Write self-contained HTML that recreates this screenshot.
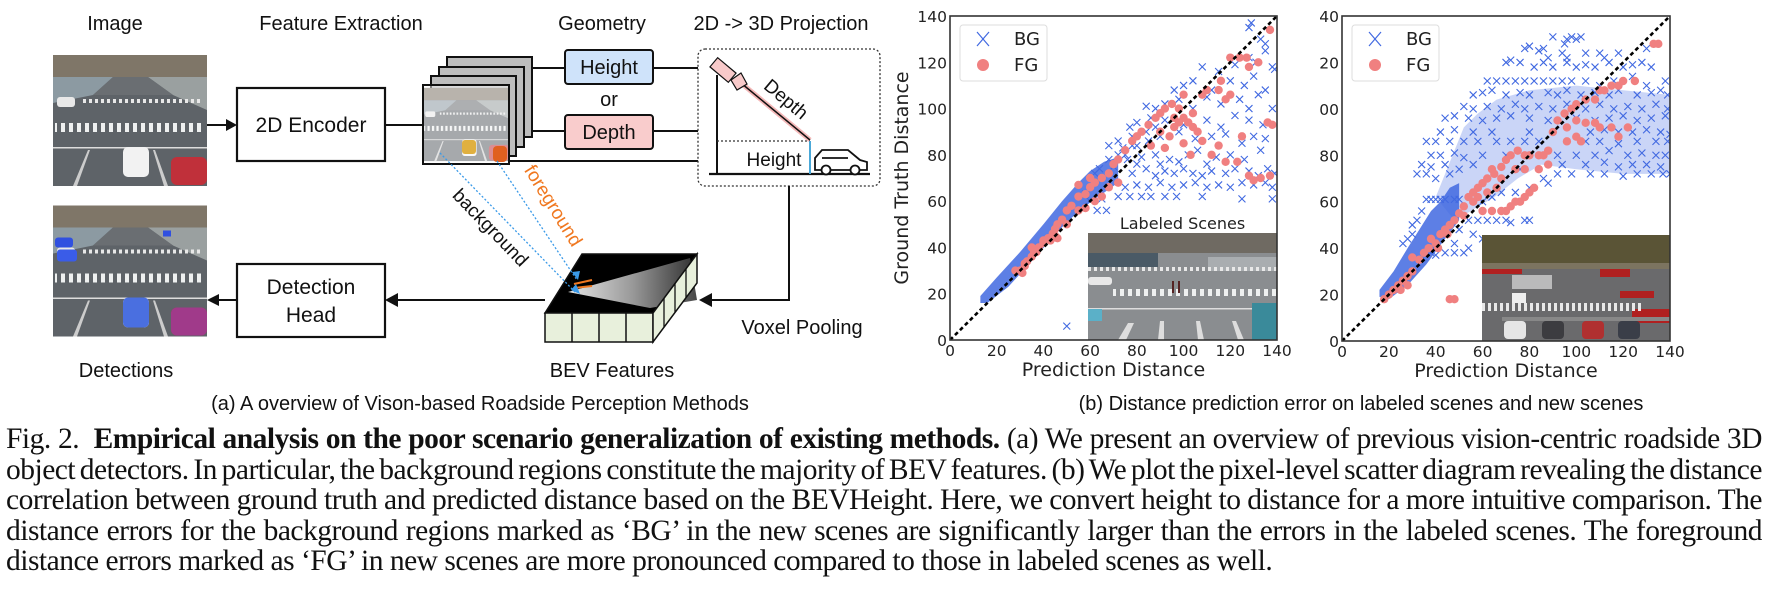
<!DOCTYPE html>
<html><head><meta charset="utf-8">
<style>
html,body{margin:0;padding:0;background:#fff;}
#wrap{position:relative;width:1767px;height:597px;overflow:hidden;background:#fff;}
svg{position:absolute;left:0;top:0;}
.cap{position:absolute;left:6px;width:1756px;font-family:"Liberation Serif",serif;font-size:29.5px;letter-spacing:-0.5px;line-height:30.5px;color:#111;text-align:justify;white-space:nowrap;}
.cap.j{text-align-last:justify;white-space:normal;word-spacing:-6px;height:31px;overflow:hidden;}
.dg{font-family:"Liberation Sans",sans-serif;fill:#111;}
.pl{font-family:"DejaVu Sans",sans-serif;fill:#222;}
</style></head>
<body>
<div id="wrap">
<svg id="fig" width="1767" height="597" viewBox="0 0 1767 597">
<defs>
 <pattern id="zebra" width="8" height="10" patternUnits="userSpaceOnUse"><rect width="4" height="10" fill="#eef0f0"/></pattern>
 <pattern id="zebra2" width="6" height="8" patternUnits="userSpaceOnUse"><rect width="3" height="8" fill="#e8e8e8"/></pattern>
 <linearGradient id="wedge" x1="0" y1="0" x2="1" y2="0"><stop offset="0" stop-color="#fff"/><stop offset="0.5" stop-color="#aaa"/><stop offset="1" stop-color="#333"/></linearGradient>
 <symbol id="road" viewBox="0 0 154 131">
  <rect width="154" height="131" fill="#5e6368"/>
  <rect width="154" height="22" fill="#7f7668"/>
  <polygon points="0,22 60,22 40,40 0,48" fill="#8c9aa2"/>
  <polygon points="95,22 154,22 154,55 120,40" fill="#9aa0a0"/>
  <polygon points="60,22 95,22 120,40 40,40" fill="#6a6e72"/>
  <rect x="30" y="44" width="120" height="4" fill="url(#zebra2)"/>
  <rect x="2" y="68" width="150" height="9" fill="url(#zebra)"/>
  <rect x="0" y="92" width="154" height="1.5" fill="#ddd"/>
  <polygon points="20,131 35,95 37,95 24,131" fill="#ccc"/>
  <polygon points="100,95 102,95 115,131 111,131" fill="#ccc"/>
  <rect x="70" y="92" width="26" height="30" rx="5" fill="#f2f2f2"/>
  <rect x="118" y="102" width="36" height="28" rx="6" fill="#c0303a"/>
  <rect x="4" y="42" width="18" height="10" rx="3" fill="#e8e8e8"/>
 </symbol>
 <symbol id="roaddet" viewBox="0 0 154 131">
  <use href="#road" width="154" height="131"/>
  <rect x="70" y="92" width="26" height="30" rx="5" fill="#4a6fe0"/>
  <rect x="118" y="102" width="36" height="28" rx="6" fill="#a03a8a"/>
  <rect x="2" y="32" width="18" height="10" rx="3" fill="#3050e0"/>
  <rect x="4" y="44" width="20" height="12" rx="3" fill="#3a5ce8"/>
  <rect x="110" y="25" width="8" height="6" fill="#3050e0"/>
 </symbol>
 <symbol id="road2" viewBox="0 0 188 106">
  <rect width="188" height="106" fill="#6a6a6c"/>
  <rect width="188" height="28" fill="#5a5436"/>
  <rect x="0" y="28" width="188" height="6" fill="#7c7460"/>
  <rect x="0" y="34" width="40" height="5" fill="#b02020"/>
  <rect x="118" y="34" width="30" height="8" fill="#b02020"/>
  <rect x="138" y="56" width="34" height="7" fill="#b02020"/>
  <rect x="150" y="74" width="38" height="14" fill="#b02020"/>
  <rect x="0" y="68" width="160" height="8" fill="url(#zebra2)"/>
  <rect x="20" y="82" width="168" height="4" fill="#888"/>
  <rect x="22" y="86" width="22" height="18" rx="4" fill="#e6e6e6"/>
  <rect x="60" y="86" width="22" height="18" rx="4" fill="#3c3c40"/>
  <rect x="100" y="86" width="22" height="18" rx="4" fill="#b03030"/>
  <rect x="136" y="86" width="22" height="18" rx="4" fill="#3a3e48"/>
  <rect x="30" y="40" width="40" height="14" fill="#ddd" opacity="0.7"/>
  <rect x="30" y="58" width="14" height="10" fill="#eee"/>
 </symbol>
 <symbol id="road1" viewBox="0 0 189 107">
  <rect width="189" height="107" fill="#8a8d90"/>
  <rect width="189" height="20" fill="#6f6a62"/>
  <rect x="0" y="20" width="70" height="14" fill="#4a5a66"/>
  <rect x="120" y="24" width="69" height="14" fill="#a9adb0"/>
  <rect x="0" y="34" width="189" height="4" fill="url(#zebra2)"/>
  <rect x="25" y="56" width="164" height="7" fill="url(#zebra)"/>
  <rect x="0" y="75" width="189" height="1.5" fill="#ddd"/>
  <rect x="0" y="44" width="24" height="8" rx="3" fill="#e8e8e8"/>
  <rect x="164" y="70" width="25" height="37" fill="#3a8a9a"/>
  <rect x="0" y="76" width="14" height="12" fill="#5bb0c8"/>
  <polygon points="30,107 40,90 46,90 38,107" fill="#ddd"/>
  <polygon points="70,107 72,88 76,88 76,107" fill="#ddd"/>
  <polygon points="110,107 108,88 112,88 116,107" fill="#ddd"/>
  <polygon points="150,107 144,88 148,88 156,107" fill="#ddd"/>
  <rect x="84" y="48" width="2" height="12" fill="#522"/><rect x="90" y="48" width="2" height="12" fill="#522"/>
 </symbol>
 <clipPath id="clip1"><rect x="950" y="16" width="327" height="324"/></clipPath>
 <clipPath id="clip2"><rect x="1342" y="16" width="328" height="325"/></clipPath>
</defs>

<g>
 <text class="dg" x="115" y="30" font-size="20" text-anchor="middle">Image</text>
 <text class="dg" x="341" y="30" font-size="20" text-anchor="middle">Feature Extraction</text>
 <text class="dg" x="602" y="30" font-size="20" text-anchor="middle">Geometry</text>
 <text class="dg" x="781" y="30" font-size="20" text-anchor="middle">2D -&gt; 3D Projection</text>

 <use href="#road" x="53" y="55" width="154" height="131"/>
 <use href="#roaddet" x="53" y="205" width="154" height="132"/>
 <text class="dg" x="126" y="377" font-size="20" text-anchor="middle">Detections</text>

 <line x1="207" y1="125" x2="228" y2="125" stroke="#111" stroke-width="2"/>
 <polygon points="237,125 226,119 226,131" fill="#111"/>
 <rect x="237" y="88" width="148" height="73" fill="#fff" stroke="#111" stroke-width="2.2"/>
 <text class="dg" x="311" y="132" font-size="21" text-anchor="middle">2D Encoder</text>

 <rect x="237" y="264" width="148" height="73" fill="#fff" stroke="#111" stroke-width="2.2"/>
 <text class="dg" x="311" y="294" font-size="21" text-anchor="middle">Detection</text>
 <text class="dg" x="311" y="322" font-size="21" text-anchor="middle">Head</text>
 <line x1="237" y1="300" x2="218" y2="300" stroke="#111" stroke-width="2"/>
 <polygon points="207,300 219,294 219,306" fill="#111"/>

 <line x1="385" y1="125" x2="423" y2="125" stroke="#111" stroke-width="2"/>
 <rect x="447" y="57" width="85" height="80" fill="#bdbdbd" stroke="#111" stroke-width="2"/>
 <rect x="439" y="67" width="85" height="80" fill="#bdbdbd" stroke="#111" stroke-width="2"/>
 <rect x="431" y="76" width="85" height="80" fill="#bdbdbd" stroke="#111" stroke-width="2"/>
 <g>
  <use href="#road" x="423" y="85" width="86" height="79"/>
  <rect x="423" y="85" width="86" height="79" fill="#fff" opacity="0.45"/>
  <rect x="462" y="140" width="14" height="14" rx="3" fill="#e0b040"/>
  <rect x="493" y="146" width="14" height="16" rx="4" fill="#e06020"/>
  <rect x="423" y="85" width="86" height="79" fill="none" stroke="#111" stroke-width="2"/>
 </g>
 <line x1="532" y1="68" x2="565" y2="68" stroke="#111" stroke-width="2"/>
 <line x1="532" y1="131" x2="565" y2="131" stroke="#111" stroke-width="2"/>
 <line x1="509" y1="161" x2="698" y2="161" stroke="#111" stroke-width="2"/>
 <rect x="565" y="50" width="88" height="34" rx="3" fill="#cfe3fa" stroke="#111" stroke-width="2"/>
 <text class="dg" x="609" y="74" font-size="20" text-anchor="middle">Height</text>
 <text class="dg" x="609" y="106" font-size="20" text-anchor="middle">or</text>
 <rect x="565" y="115" width="88" height="34" rx="3" fill="#f9cccc" stroke="#111" stroke-width="2"/>
 <text class="dg" x="609" y="139" font-size="20" text-anchor="middle">Depth</text>
 <line x1="653" y1="68" x2="698" y2="68" stroke="#111" stroke-width="2"/>
 <line x1="653" y1="131" x2="698" y2="131" stroke="#111" stroke-width="2"/>

 <g>
  <rect x="698" y="49" width="182" height="137" rx="7" fill="#fff" stroke="#333" stroke-width="1.3" stroke-dasharray="2,2"/>
  <line x1="717" y1="75" x2="717" y2="174" stroke="#111" stroke-width="2"/>
  <line x1="709" y1="174" x2="870" y2="174" stroke="#111" stroke-width="2.2"/>
  <line x1="717" y1="141" x2="810" y2="141" stroke="#333" stroke-width="1.2" stroke-dasharray="2,2"/>
  <line x1="741" y1="83" x2="810" y2="140" stroke="#f4b8b8" stroke-width="5"/>
  <line x1="741" y1="83" x2="810" y2="140" stroke="#111" stroke-width="1.5"/>
  <rect x="711" y="64" width="24" height="12" fill="#f8caca" stroke="#111" stroke-width="1.2" transform="rotate(40 723 70)"/>
  <polygon points="731,80 741,73 747,84 737,90" fill="#f8caca" stroke="#111" stroke-width="1.2"/>
  <line x1="810" y1="141" x2="810" y2="174" stroke="#4aa8d8" stroke-width="2"/>
  <path d="M815,170 L815,158 L822,150 L848,150 L860,160 L867,162 L867,170 Z" fill="#fff" stroke="#111" stroke-width="1.8"/>
  <line x1="822" y1="158" x2="848" y2="158" stroke="#111" stroke-width="1.8"/>
  <circle cx="826" cy="170" r="4.5" fill="#fff" stroke="#111" stroke-width="1.8"/>
  <circle cx="855" cy="170" r="4.5" fill="#fff" stroke="#111" stroke-width="1.8"/>
  <text class="dg" x="774" y="166" font-size="19" text-anchor="middle">Height</text>
  <text class="dg" x="782" y="104" font-size="19" text-anchor="middle" transform="rotate(40 782 104)">Depth</text>
 </g>
 <polyline points="789,186 789,300 710,300" fill="none" stroke="#111" stroke-width="2"/>
 <polygon points="699,300 712,293 712,307" fill="#111"/>
 <text class="dg" x="802" y="334" font-size="20" text-anchor="middle">Voxel Pooling</text>
 <line x1="545" y1="300" x2="396" y2="300" stroke="#111" stroke-width="2"/>
 <polygon points="385,300 398,293 398,307" fill="#111"/>

 <g>
  <polygon points="545,313 582,254 697,254 653,313" fill="#000" stroke="#111" stroke-width="1.5"/>
  <polygon points="568,292 690,258 697,300 650,308" fill="url(#wedge)" opacity="0.9"/>
  <rect x="545" y="313" width="108" height="29" fill="#e8f0dc" stroke="#111" stroke-width="1.5"/>
  <line x1="572" y1="313" x2="572" y2="342" stroke="#111" stroke-width="1.5"/>
  <line x1="599" y1="313" x2="599" y2="342" stroke="#111" stroke-width="1.5"/>
  <line x1="626" y1="313" x2="626" y2="342" stroke="#111" stroke-width="1.5"/>
  <polygon points="653,313 697,254 697,283 653,342" fill="#e8f0dc" stroke="#111" stroke-width="1.5"/>
  <line x1="664" y1="298" x2="664" y2="327" stroke="#111" stroke-width="1.3"/>
  <line x1="675" y1="283" x2="675" y2="312" stroke="#111" stroke-width="1.3"/>
  <line x1="686" y1="269" x2="686" y2="298" stroke="#111" stroke-width="1.3"/>
  <line x1="574" y1="284" x2="592" y2="280" stroke="#f07820" stroke-width="2"/>
  <line x1="574" y1="288" x2="592" y2="286" stroke="#f07820" stroke-width="2"/>
 </g>
 <text class="dg" x="612" y="377" font-size="20" text-anchor="middle">BEV Features</text>
 <line x1="440" y1="153" x2="575" y2="292" stroke="#3a9ae8" stroke-width="1.3" stroke-dasharray="2,2"/>
 <line x1="497" y1="161" x2="577" y2="280" stroke="#3a9ae8" stroke-width="1.3" stroke-dasharray="2,2"/>
 <polygon points="578,280 572,272 580,271" fill="#3a9ae8"/>
 <polygon points="580,294 571,290 576,284" fill="#3a9ae8"/>
 <text class="dg" x="486" y="232" font-size="19" text-anchor="middle" transform="rotate(46 486 232)">background</text>
 <text class="dg" x="548" y="209" font-size="19" text-anchor="middle" style="fill:#f07820" transform="rotate(58 548 209)">foreground</text>
 <text class="dg" x="480" y="410" font-size="20" text-anchor="middle">(a) A overview of Vison-based Roadside Perception Methods</text>
</g>

<g id="chart1"></g>
<g id="chart2"></g>
<text class="dg" x="1361" y="410" font-size="20" text-anchor="middle">(b) Distance prediction error on labeled scenes and new scenes</text>
</svg>

<div class="cap j" style="top:424px">Fig. 2.&nbsp; <b>Empirical analysis on the poor scenario generalization of existing methods.</b> (a) We present an overview of previous vision-centric roadside 3D</div>
<div class="cap j" style="top:454.5px">object detectors. In particular, the background regions constitute the majority of BEV features. (b) We plot the pixel-level scatter diagram revealing the distance</div>
<div class="cap j" style="top:485px">correlation between ground truth and predicted distance based on the BEVHeight. Here, we convert height to distance for a more intuitive comparison. The</div>
<div class="cap j" style="top:515.5px">distance errors for the background regions marked as ‘BG’ in the new scenes are significantly larger than the errors in the labeled scenes. The foreground</div>
<div class="cap" style="top:546px">distance errors marked as ‘FG’ in new scenes are more pronounced compared to those in labeled scenes as well.</div>
</div>

<script>
const xTicks = [0,20,40,60,80,100,120,140];
const yTicks = [0,20,40,60,80,100,120,140];
const yTickLabels1 = ["0","20","40","60","80","100","120","140"];
const yTickLabels2 = ["0","20","40","60","80","00","20","40"];

const band1 = [[13,19],[20,27],[30,38],[40,50],[48,60],[55,68],[60,73],[66,77],[72,79],[72,68],[65,63],[58,58],[50,51],[42,42],[34,33],[25,23],[16,16],[13,16]];
const band2 = [[16,22],[22,30],[28,40],[33,48],[38,56],[42,60],[46,66],[50,68],[50,52],[44,44],[36,33],[28,24],[20,18],[16,19]];
const cloud2 = [[40,62],[44,72],[48,82],[52,92],[58,98],[66,104],[80,108],[100,110],[120,108],[140,106],[140,72],[120,72],[100,74],[85,76],[75,70],[65,62],[55,56],[48,52]];

const bg1 = [[75,66],[80,67],[85,66],[90,68],[95,66],[100,67],[105,68],[110,66],[115,67],[120,66],[125,68],[130,67],[135,68],[138,66],
[72,62],[77,62],[82,62],[86,62],[92,62],[97,62],[108,62],[125,61],[138,61],[63,56],[67,56],
[78,72],[84,74],[88,71],[92,73],[96,72],[100,74],[104,72],[108,71],[112,73],[118,72],[122,74],[128,73],[132,71],[136,74],[139,72],
[72,80],[76,78],[82,79],[88,80],[94,78],[102,80],[106,82],[114,79],[120,80],[126,78],[133,82],[80,76],[90,76],[98,77],[110,76],
[72,86],[78,88],[85,86],[90,88],[98,90],[105,87],[112,88],[118,89],[125,85],[130,88],[135,87],[68,84],[74,83],
[80,94],[86,96],[92,95],[100,93],[110,95],[116,92],[122,97],[128,95],[134,93],[77,92],
[88,100],[92,102],[98,104],[104,100],[110,105],[116,102],[124,104],[128,100],[132,106],[138,100],[84,101],
[100,110],[104,112],[112,108],[120,112],[126,110],[130,114],[135,108],[96,108],
[108,118],[115,116],[122,119],[128,122],[131,120],[135,125],[138,118],[133,130],[135,128],[128,135],[129,137],[139,117],
[50,6],[60,60],[65,61],[58,63],[70,75],[75,80],[78,84],[68,78],[64,74],[62,72],[84,90],[88,92],[80,84]];
const fg1 = [[30,30],[32,32],[33,34],[35,36],[37,38],[38,40],[40,43],[42,44],[44,46],[45,48],[46,50],[48,52],[50,56],[52,58],[55,62],[58,63],[60,66],[62,68],[65,70],[68,72],[70,76],[72,78],[75,82],[78,86],[80,88],[82,90],[85,93],[88,96],[90,98],[92,100],[95,102],[98,100],[100,96],[102,94],[104,92],[106,90],[108,86],[96,92],[94,88],[90,90],[100,106],[108,106],[110,108],[115,108],[118,104],[120,106],[116,112],[120,122],[124,122],[127,122],[128,118],[132,120],[137,134],[138,93],[136,94],[137,71],[133,70],[130,69],[118,77],[112,80],[115,84],[125,88],[123,77],[128,71],[100,85],[103,80],[92,83],[72,68],[68,66],[65,62],[62,60],[58,57],[55,56],[50,50],[45,45],[40,42],[43,43],[46,44],[35,40],[32,33],[28,30],[36,38],[31,29],[55,67],[60,70],[86,84],[96,96],[104,98],[98,94]];

const bg2 = [[90,131],[96,130],[98,131],[100,130],[102,131],[95,128],
[78,126],[80,127],[84,125],[86,126],[88,122],[94,124],[96,122],[104,124],[110,124],[112,122],[118,124],[130,126],
[70,120],[72,121],[76,120],[82,118],[86,120],[90,118],[96,120],[100,118],[104,119],[108,118],[114,120],[120,118],[124,119],[128,120],[132,118],
[62,112],[66,112],[70,112],[74,112],[78,112],[82,112],[86,112],[90,112],[94,112],[98,112],[104,112],[110,110],[116,112],[124,114],[130,110],[138,112],
[56,106],[60,107],[64,108],[70,106],[76,107],[80,106],[88,107],[92,106],[96,108],[102,106],[108,107],[114,106],[118,108],[126,106],[132,107],[136,108],[139,106],
[52,101],[56,100],[62,101],[68,100],[74,102],[78,100],[84,101],[90,100],[96,102],[104,100],[110,102],[116,100],[122,101],[128,100],[134,102],[139,100],
[44,96],[48,97],[54,96],[60,95],[66,96],[72,97],[80,96],[88,95],[100,96],[108,95],[114,96],[120,97],[126,95],[132,96],[138,97],
[42,90],[48,91],[56,90],[64,90],[80,90],[106,90],[112,91],[118,90],[124,90],[130,91],[136,90],[140,89],
[36,86],[40,86],[46,86],[52,86],[58,86],[66,86],[72,86],[78,86],[84,86],[104,86],[110,86],[118,85],[126,86],[134,86],[139,86],
[38,80],[42,80],[48,81],[52,79],[60,80],[70,80],[92,80],[100,80],[108,80],[114,82],[122,80],[128,81],[134,80],[138,80],
[34,76],[38,75],[44,76],[50,74],[56,76],[94,76],[104,76],[112,77],[118,75],[124,76],[130,76],[136,75],
[32,72],[36,72],[40,70],[46,72],[98,72],[106,72],[112,72],[120,71],[126,72],[132,72],[137,72],[140,72],
[36,61],[38,61],[40,61],[42,61],[44,61],[48,61],[50,61],
[54,52],[58,52],[62,52],[66,52],[70,52],[72,51],[78,52],[80,52],
[38,38],[40,37],[44,38],[48,38],[52,38],[54,40],
[60,60],[64,62],[68,64],[74,64],[80,66],[86,70],[88,68],[92,72],[76,74],[60,44],[56,46],[50,48],[48,42],[28,44],[30,46],[26,42],[32,52],[34,56],[30,50]];
const fg2 = [[18,18],[20,20],[22,22],[24,24],[26,26],[28,28],[30,30],[25,22],[28,24],[30,36],[33,35],[35,38],[37,40],[40,42],[42,46],[44,48],[46,50],[48,52],[50,55],[52,58],[54,62],[56,64],[58,66],[60,68],[62,70],[65,72],[68,75],[70,78],[72,80],[75,82],[78,80],[80,80],[84,80],[86,80],[88,82],[90,90],[92,95],[95,98],[98,100],[100,102],[104,104],[108,104],[110,108],[112,108],[115,110],[118,110],[120,112],[125,112],[135,128],[133,128],[46,18],[48,18],[60,56],[64,56],[68,56],[70,56],[72,58],[74,60],[76,60],[78,62],[80,64],[82,66],[64,74],[68,70],[74,74],[78,74],[84,74],[88,76],[96,86],[100,88],[102,86],[104,94],[108,94],[110,92],[115,92],[118,88],[122,92],[100,95],[96,92],[38,44],[41,40],[45,46],[52,54],[56,60],[58,62],[62,64],[66,66]];

const NS = "http://www.w3.org/2000/svg";
function mk(tag, attrs, parent){ const e=document.createElementNS(NS,tag); for(const k in attrs) e.setAttribute(k,attrs[k]); parent.appendChild(e); return e; }

function drawChart(gid, L, R, T, B, bands, cloud, bg, fg, yLabels, clipId, inset, showYTitle, insetTitle){
  const g = document.getElementById(gid);
  const X = v => L + v/140*(R-L);
  const Y = v => B - v/140*(B-T);
  mk('rect',{x:L,y:T,width:R-L,height:B-T,fill:'#fff'},g);
  const pg = mk('g',{'clip-path':'url(#'+clipId+')'},g);
  if(cloud){
    const c = mk('polygon',{points:cloud.map(p=>X(p[0])+','+Y(p[1])).join(' '),fill:'#4169e1',opacity:'0.28'},pg);
    
    
  }
  const b = mk('polygon',{points:bands.map(p=>X(p[0])+','+Y(p[1])).join(' '),fill:'#4169e1',opacity:'0.85'},pg);
  
  
  bg.forEach(p=>{
    const x=X(p[0]), y=Y(p[1]);
    const m = mk('path',{d:`M${x-3.5},${y-3.5}L${x+3.5},${y+3.5}M${x-3.5},${y+3.5}L${x+3.5},${y-3.5}`,stroke:'#4169e1','stroke-width':1.1,fill:'none'},pg);
    
    
  });
  fg.forEach(p=>{
    const m = mk('circle',{cx:X(p[0]),cy:Y(p[1]),r:4.2,fill:'#f08080'},pg);
    
    
  });
  const d = mk('line',{x1:X(0),y1:Y(0),x2:X(140),y2:Y(140),stroke:'#000','stroke-width':2.6,'stroke-dasharray':'4,3'},pg);
  
  
  const ig = mk('use',{href:inset.href,x:inset.x,y:inset.y,width:R-inset.x,height:B-inset.y},g);
  
  
  if(insetTitle){
    const it = mk('text',{x:(inset.x+R)/2,y:inset.y-4,'font-size':16,'text-anchor':'middle',class:'pl'},g);
    it.textContent = insetTitle;
    
    
  }
  const fr = mk('rect',{x:L,y:T,width:R-L,height:B-T,fill:'none',stroke:'#333','stroke-width':1.6},g);
  
  
  xTicks.forEach((v,i)=>{
    const t = mk('text',{x:X(v),y:B+16,'font-size':15.5,'text-anchor':'middle',class:'pl'},g);
    t.textContent = String(v);
    
    
  });
  yTicks.forEach((v,i)=>{
    const t = mk('text',{x:L-3,y:Y(v)+6,'font-size':15.5,'text-anchor':'end',class:'pl'},g);
    t.textContent = yLabels[i];
    
    
  });
  const xt = mk('text',{x:(L+R)/2,y:B+36,'font-size':19,'text-anchor':'middle',class:'pl'},g);
  xt.textContent = 'Prediction Distance';
  
  
  if(showYTitle){
    const yt = mk('text',{x:0,y:0,'font-size':19,'text-anchor':'middle',class:'pl',transform:`translate(${L-42},${(T+B)/2}) rotate(-90)`},g);
    yt.textContent = 'Ground Truth Distance';
    
    
  }
  const lg = mk('g',{},g);
  
  
  mk('rect',{x:L+10,y:T+9,width:87,height:56,rx:3,fill:'#fff',stroke:'#ddd','stroke-width':1},lg);
  const cx=L+33, y1=T+23, y2=T+49;
  const e1 = mk('path',{d:`M${cx-6},${y1-7}L${cx+6},${y1+7}M${cx-6},${y1+7}L${cx+6},${y1-7}`,stroke:'#4169e1','stroke-width':1.2,fill:'none'},lg);
  
  
  const e2 = mk('circle',{cx:cx,cy:y2,r:6,fill:'#f08080'},lg);
  
  
  const t1 = mk('text',{x:L+64,y:y1+6,'font-size':18,class:'pl'},lg); t1.textContent='BG';
  
  
  const t2 = mk('text',{x:L+64,y:y2+6,'font-size':18,class:'pl'},lg); t2.textContent='FG';
  
  
}

drawChart('chart1',950,1277,16,340,band1,null,bg1,fg1,yTickLabels1,'clip1',{href:'#road1',x:1088,y:233},true,'Labeled Scenes');
drawChart('chart2',1342,1670,16,341,band2,cloud2,bg2,fg2,yTickLabels2,'clip2',{href:'#road2',x:1482,y:235},false,null);
</script>
</body></html>
